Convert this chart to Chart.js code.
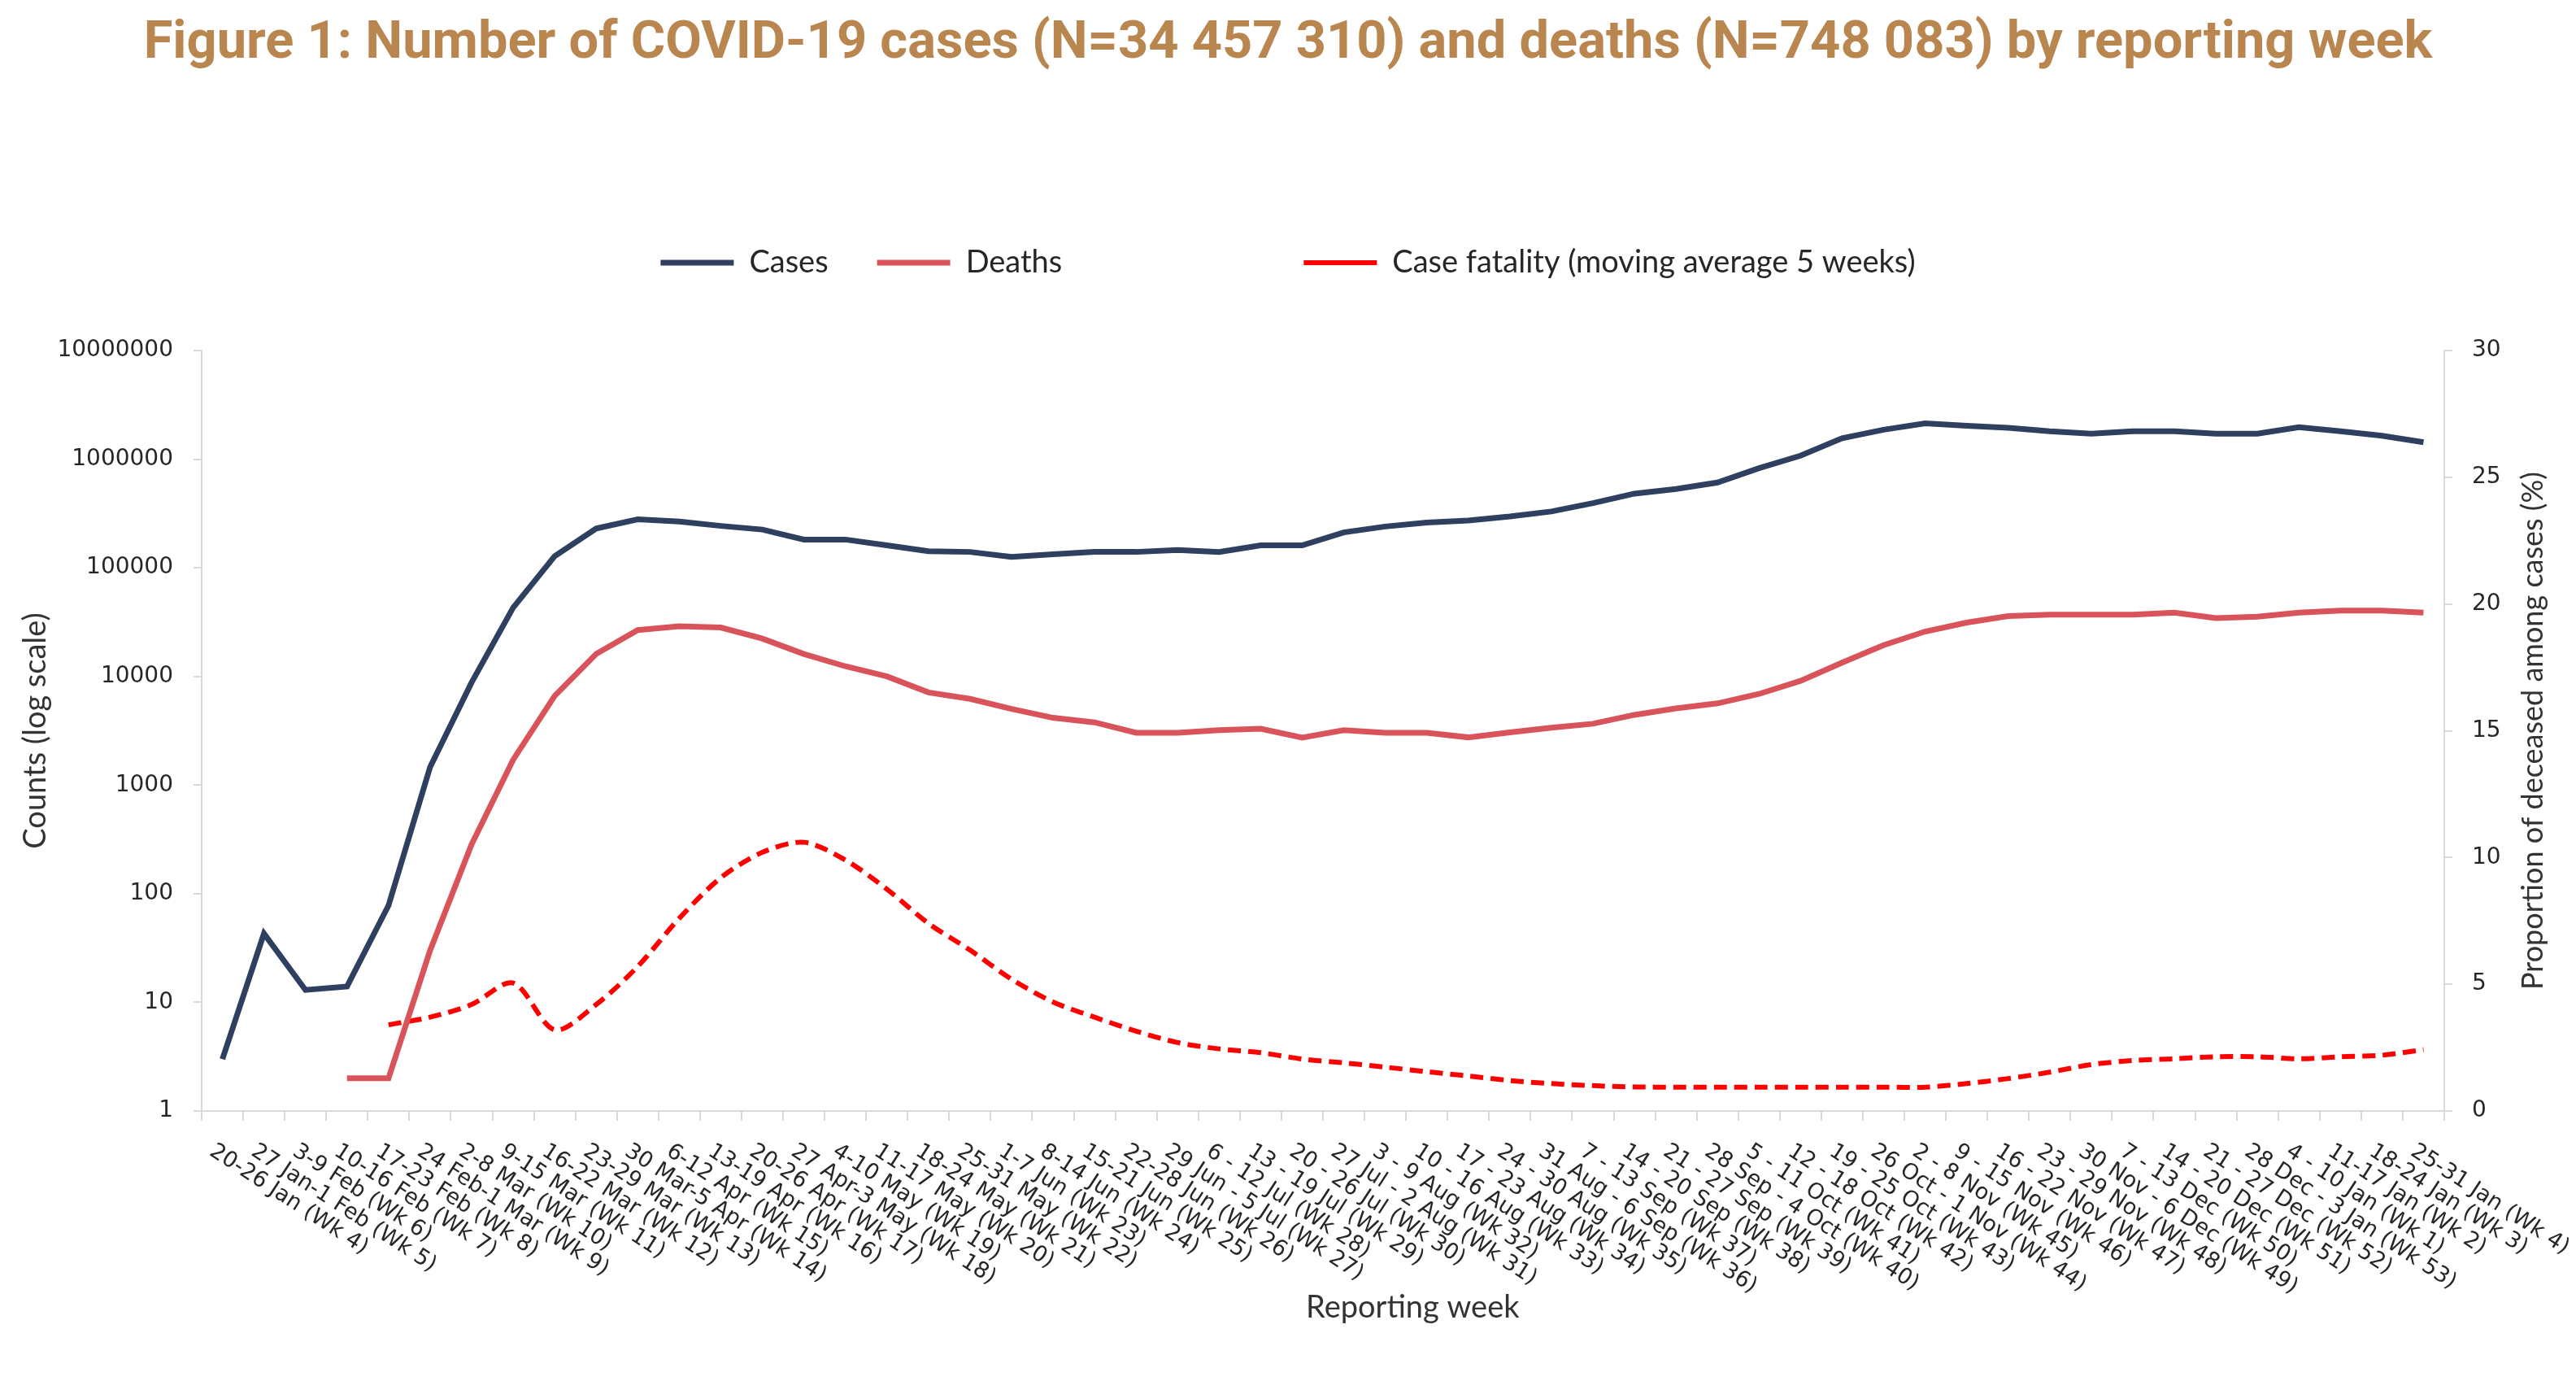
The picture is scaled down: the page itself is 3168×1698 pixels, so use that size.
<!DOCTYPE html>
<html lang="en">
<head>
  <meta charset="UTF-8">
  <title>COVID-19 cases and deaths by reporting week</title>
  <script src="https://cdn.jsdelivr.net/npm/chart.js"></script>
  <style>
    html, body {
      margin: 0;
      padding: 0;
      background-color: #ffffff;
      overflow: hidden;
    }

    #wrap {
      width: 3168px;
      height: 1698px;
    }
  </style>
</head>
<body>
  <div id="wrap"><canvas id="covidChart" width="3168" height="1698"></canvas></div>

  <script>
    const weeks = [
      '20-26 Jan (Wk 4)', '27 Jan-1 Feb (Wk 5)', '3-9 Feb (Wk 6)', '10-16 Feb (Wk 7)',
      '17-23 Feb (Wk 8)', '24 Feb-1 Mar (Wk 9)', '2-8 Mar (Wk 10)', '9-15 Mar (Wk 11)',
      '16-22 Mar (Wk 12)', '23-29 Mar (Wk 13)', '30 Mar-5 Apr (Wk 14)', '6-12 Apr (Wk 15)',
      '13-19 Apr (Wk 16)', '20-26 Apr (Wk 17)', '27 Apr-3 May (Wk 18)', '4-10 May (Wk 19)',
      '11-17 May (Wk 20)', '18-24 May (Wk 21)', '25-31 May (Wk 22)', '1-7 Jun (Wk 23)',
      '8-14 Jun (Wk 24)', '15-21 Jun (Wk 25)', '22-28 Jun (Wk 26)', '29 Jun - 5 Jul (Wk 27)',
      '6 - 12 Jul (Wk 28)', '13 - 19 Jul (Wk 29)', '20 - 26 Jul (Wk 30)', '27 Jul - 2 Aug (Wk 31)',
      '3 - 9 Aug (Wk 32)', '10 - 16 Aug (Wk 33)', '17 - 23 Aug (Wk 34)', '24 - 30 Aug (Wk 35)',
      '31 Aug - 6 Sep (Wk 36)', '7 - 13 Sep (Wk 37)', '14 - 20 Sep (Wk 38)', '21 - 27 Sep (Wk 39)',
      '28 Sep - 4 Oct (Wk 40)', '5 - 11 Oct (Wk 41)', '12 - 18 Oct (Wk 42)', '19 - 25 Oct (Wk 43)',
      '26 Oct - 1 Nov (Wk 44)', '2 - 8 Nov (Wk 45)', '9 - 15 Nov (Wk 46)', '16 - 22 Nov (Wk 47)',
      '23 - 29 Nov (Wk 48)', '30 Nov - 6 Dec (Wk 49)', '7 - 13 Dec (Wk 50)', '14 - 20 Dec (Wk 51)',
      '21 - 27 Dec (Wk 52)', '28 Dec - 3 Jan (Wk 53)', '4 - 10 Jan (Wk 1)', '11-17 Jan (Wk 2)',
      '18-24 Jan (Wk 3)', '25-31 Jan (Wk 4)'
    ];

    const cases = [
      3, 43, 13, 14, 78, 1460, 8800, 43000, 128000, 230000,
      279000, 267000, 243000, 225000, 182000, 182000, 161000, 142000, 140000, 126000,
      133000, 140000, 140000, 146000, 140000, 161000, 161000, 212000, 240000, 261000,
      273000, 297000, 330000, 394000, 482000, 531000, 610000, 827000, 1076000, 1560000,
      1867000, 2140000, 2030000, 1945000, 1806000, 1714000, 1806000, 1806000, 1714000, 1714000,
      1967000, 1806000, 1644000, 1433000
    ];

    const deaths = [
      null, null, null, 2, 2, 30, 285, 1710, 6620, 16100,
      26700, 29000, 28200, 22300, 16100, 12400, 10000, 7130, 6220, 5030,
      4160, 3780, 3030, 3030, 3200, 3300, 2730, 3200, 3030, 3030,
      2750, 3060, 3370, 3670, 4430, 5080, 5650, 6900, 9100, 13400,
      19400, 25900, 31300, 35900, 37000, 37000, 37000, 38600, 34400, 35500,
      38600, 40300, 40300, 38600
    ];

    // proportion of deceased among cases (%), 5-week moving average
    const caseFatality = [
      null, null, null, null, 3.4, 3.7, 4.2, 5.05, 3.2, 4.2,
      5.7, 7.6, 9.2, 10.2, 10.6, 9.9, 8.75, 7.4, 6.35, 5.2,
      4.3, 3.7, 3.15, 2.7, 2.45, 2.3, 2.05, 1.9, 1.73, 1.55,
      1.38, 1.2, 1.08, 1.0, 0.95, 0.94, 0.94, 0.94, 0.94, 0.94,
      0.94, 0.94, 1.08, 1.28, 1.53, 1.83, 1.99, 2.06, 2.14, 2.14,
      2.06, 2.14, 2.2, 2.42
    ];

    const countTicks = [1, 10, 100, 1000, 10000, 100000, 1000000, 10000000];

    const axisGrey = '#d9d9d9';
    const textDark = '#262626';

    // Excel-style labels: rotated clockwise, running away from the tick
    const weekLabels = {
      id: 'weekLabels',
      afterDraw(chart) {
        const ctx = chart.ctx;
        const x = chart.scales.x;
        const y1 = chart.scales.y1;
        ctx.save();
        ctx.font = '27px "DejaVu Sans"';
        ctx.fillStyle = textDark;
        ctx.textAlign = 'left';
        ctx.textBaseline = 'top';
        weeks.forEach((w, i) => {
          ctx.save();
          ctx.translate(x.getPixelForValue(i) - 6, x.top + 36);
          ctx.rotate(33 * Math.PI / 180);
          ctx.fillText(w, 0, 0);
          ctx.restore();
        });

        ctx.font = '38px Lato';
        ctx.fillStyle = '#333333';
        ctx.textAlign = 'center';
        ctx.textBaseline = 'middle';
        ctx.fillText('Reporting week', x.left + x.width * 0.54, x.bottom - 90);

        ctx.font = '36px Lato';
        ctx.translate(y1.right - 53, (y1.top + y1.bottom) / 2);
        ctx.rotate(-Math.PI / 2);
        ctx.fillText('Proportion of deceased among cases (%)', 0, 0);
        ctx.restore();
      }
    };

    const ctx = document.getElementById('covidChart').getContext('2d');
    new Chart(ctx, {
      type: 'line',
      data: {
        labels: weeks,
        datasets: [
          {
            label: 'Cases',
            data: cases,
            borderColor: '#2e3f5f',
            backgroundColor: '#2e3f5f',
            borderWidth: 7,
            pointRadius: 0,
            yAxisID: 'y'
          },
          {
            label: 'Deaths',
            data: deaths,
            borderColor: '#d9545a',
            backgroundColor: '#d9545a',
            borderWidth: 7,
            pointRadius: 0,
            yAxisID: 'y'
          },
          {
            label: 'Case fatality (moving average 5 weeks)',
            data: caseFatality,
            borderColor: '#ff0000',
            backgroundColor: '#ff0000',
            borderWidth: 6,
            borderDash: [16, 9],
            tension: 0.3,
            pointRadius: 0,
            yAxisID: 'y1'
          }
        ]
      },
      options: {
        responsive: false,
        animation: false,
        devicePixelRatio: 1,
        layout: { padding: 0 },
        plugins: {
          title: {
            display: true,
            text: 'Figure 1: Number of COVID-19 cases (N=34 457 310) and deaths (N=748 083) by reporting week',
            color: '#b8864e',
            font: { family: 'Roboto', size: 65, weight: 'bold' },
            padding: { top: 16, bottom: 150 }
          },
          subtitle: {
            display: true,
            text: '',
            weight: 500,
            font: { size: 10 },
            padding: { top: 0, bottom: 67 }
          },
          legend: {
            labels: {
              color: textDark,
              font: { family: 'Lato', size: 38 },
              usePointStyle: true,
              pointStyle: 'line',
              pointStyleWidth: 90,
              padding: 60,
              generateLabels(chart) {
                const items = Chart.defaults.plugins.legend.labels.generateLabels(chart);
                // blank slot, as in the original legend
                items.splice(2, 0, {
                  text: ' '.repeat(7),
                  fillStyle: 'rgba(0,0,0,0)',
                  strokeStyle: 'rgba(0,0,0,0)',
                  lineWidth: 0,
                  hidden: false,
                  pointStyle: 'line',
                  datasetIndex: -1
                });
                return items;
              }
            }
          },
          tooltip: { enabled: false }
        },
        scales: {
          x: {
            type: 'category',
            offset: true,
            grid: {
              offset: true,
              drawOnChartArea: false,
              drawTicks: true,
              tickLength: 12,
              color: axisGrey,
              lineWidth: 2
            },
            border: { color: axisGrey, width: 2 },
            ticks: { display: false, autoSkip: false },
            afterFit(scale) {
              scale.height = 332;
            }
          },
          y: {
            type: 'logarithmic',
            position: 'left',
            min: 1,
            max: 10000000,
            afterBuildTicks(scale) {
              scale.ticks = countTicks.map(v => ({ value: v }));
            },
            ticks: {
              color: textDark,
              font: { family: 'DejaVu Sans', size: 28 },
              padding: 25,
              callback: function(value) {
                return String(value);
              }
            },
            grid: {
              drawOnChartArea: false,
              drawTicks: true,
              tickLength: 10,
              color: axisGrey,
              lineWidth: 2
            },
            border: { color: axisGrey, width: 2 },
            title: {
              display: true,
              text: 'Counts (log scale)',
              color: '#333333',
              font: { family: 'Lato', size: 38 },
              padding: { top: 21, bottom: 0 }
            },
            afterFit(scale) {
              scale.width = 248;
            }
          },
          y1: {
            type: 'linear',
            position: 'right',
            min: 0,
            max: 30,
            ticks: {
              stepSize: 5,
              color: textDark,
              font: { family: 'DejaVu Sans', size: 28 },
              padding: 24
            },
            grid: {
              drawOnChartArea: false,
              drawTicks: true,
              tickLength: 10,
              color: axisGrey,
              lineWidth: 2
            },
            border: { color: axisGrey, width: 2 },
            afterFit(scale) {
              scale.width = 162;
            }
          }
        }
      },
      plugins: [weekLabels]
    });
  </script>
</body>
</html>
